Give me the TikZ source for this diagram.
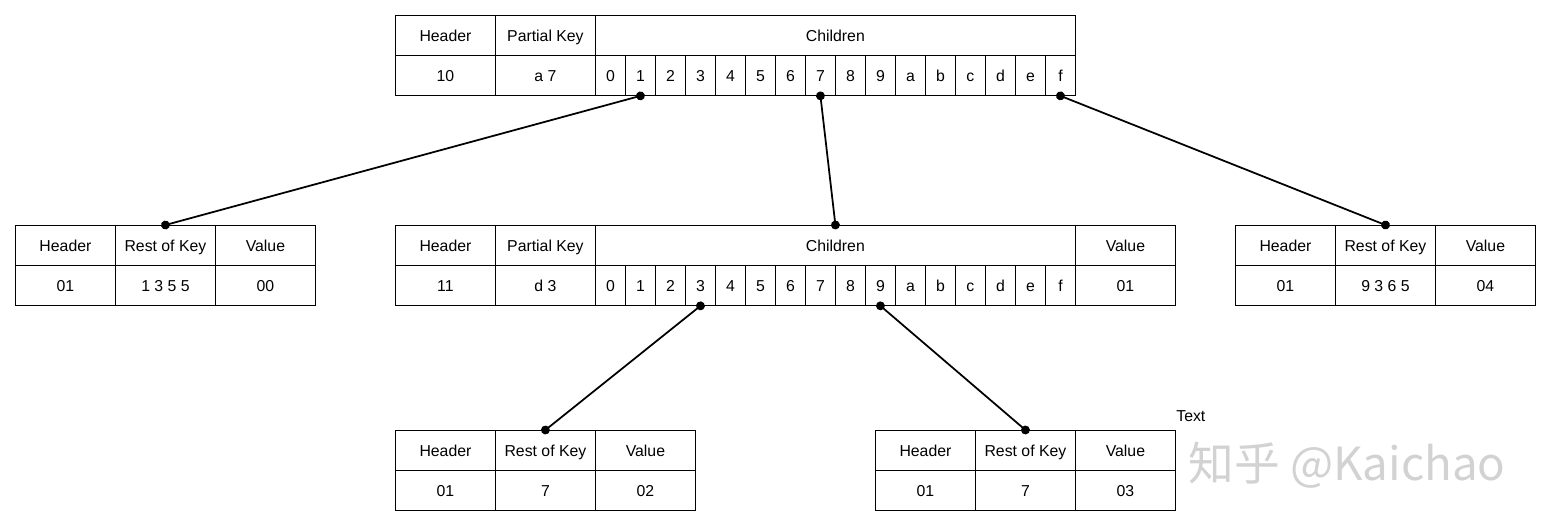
\documentclass[tikz,border=0pt]{standalone}
\usepackage{fontspec}
\setmainfont{Liberation Sans}
\newfontfamily\cjkfont{Noto Sans CJK SC}
\usetikzlibrary{arrows.meta}

\begin{document}
\begin{tikzpicture}[x=0.02cm,y=-0.02cm,
  cell/.style={draw,line width=0.5pt,anchor=north west,inner sep=0pt,
    minimum height=0.8cm,minimum width=2cm,text height=1.6ex,text depth=0.3ex,
    font=\fontsize{9}{11}\selectfont},
  slot/.style={cell,minimum width=0.6cm},
  link/.style={line width=1pt,{Circle[length=5pt]}-{Circle[length=5pt]},
    shorten <=-2.5pt,shorten >=-2.5pt}]
\useasboundingbox (0,0) rectangle (1551,527);

% root node
\node[cell] (top-hdr) at (395,15) {Header};
\node[cell] (top-pk) at (495,15) {Partial Key};
\node[cell,minimum width=9.6cm] (top-ch) at (595,15) {Children};
\node[cell] (top-hv) at (395,55) {10};
\node[cell] (top-pkv) at (495,55) {a 7};
\foreach \k [count=\i from 0] in {0,1,2,3,4,5,6,7,8,9,a,b,c,d,e,f}
  \node[slot] (top-c\k) at (595+30*\i,55) {\k};

% inner node with value
\node[cell] (mid-hdr) at (395,225) {Header};
\node[cell] (mid-pk) at (495,225) {Partial Key};
\node[cell,minimum width=9.6cm] (mid-ch) at (595,225) {Children};
\node[cell] (mid-val) at (1075,225) {Value};
\node[cell] (mid-hv) at (395,265) {11};
\node[cell] (mid-pkv) at (495,265) {d 3};
\foreach \k [count=\i from 0] in {0,1,2,3,4,5,6,7,8,9,a,b,c,d,e,f}
  \node[slot] (mid-c\k) at (595+30*\i,265) {\k};
\node[cell] (mid-vv) at (1075,265) {01};

% leaves
\foreach \n/\lx/\ly/\rk/\vv in {leafA/15/225/1 3 5 5/00,leafB/1235/225/9 3 6 5/04,
    leafC/395/430/7/02,leafD/875/430/7/03} {
  \node[cell] (\n-hdr) at (\lx,\ly) {Header};
  \node[cell] (\n-rkh) at (\lx+100,\ly) {Rest of Key};
  \node[cell] (\n-val) at (\lx+200,\ly) {Value};
  \node[cell] (\n-hv) at (\lx,\ly+40) {01};
  \node[cell] (\n-rk) at (\lx+100,\ly+40) {\rk};
  \node[cell] (\n-vv) at (\lx+200,\ly+40) {\vv};
}

% pointers
\draw[link] (top-c1.south) -- (leafA-rkh.north);
\draw[link] (top-c7.south) -- (mid-ch.north);
\draw[link] (top-cf.south) -- (leafB-rkh.north);
\draw[link] (mid-c3.south) -- (leafC-rkh.north);
\draw[link] (mid-c9.south) -- (leafD-rkh.north);

\node[anchor=west,inner sep=0pt,font=\fontsize{9}{11}\selectfont] (stray) at (1176,416) {Text};
\node[text=gray!35,font=\cjkfont\fontsize{26}{30}\selectfont] (mark) at (1347,465) {知乎 @Kaichao};
\end{tikzpicture}
\end{document}
